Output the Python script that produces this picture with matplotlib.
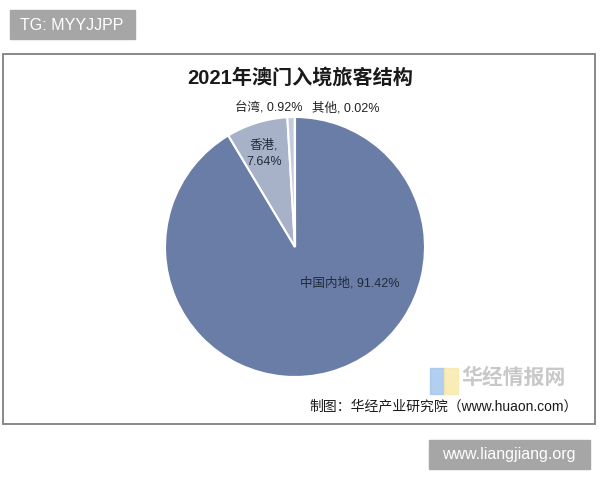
import matplotlib
matplotlib.use("Agg")
import matplotlib.pyplot as plt
from matplotlib.patches import Rectangle

plt.rcParams['font.family'] = ['Liberation Sans', 'Noto Sans CJK SC', 'DejaVu Sans']

# data
categories = ['中国内地', '香港', '台湾', '其他']
shares = [91.42, 7.64, 0.92, 0.02]
colors = ['#6a7da6', '#a7b2c9', '#c3cadb', '#dde2ec']


def px(x, y, w=0, h=0):
    # pixel box (from top-left) -> figure fraction
    return (x / 600, 1 - (y + h) / 480, w / 600, h / 480)


fig = plt.figure(figsize=(6, 4.8), dpi=100)
fig.patch.set_facecolor('white')

# outer frame of the chart
x0, y0, w0, h0 = px(3, 54, 592, 370)
fig.add_artist(Rectangle((x0, y0), w0, h0, transform=fig.transFigure, fill=False,
                         edgecolor='#7f7f7f', linewidth=1.3))

# pie
ax = fig.add_axes(px(165, 117, 260, 260))
ax.pie(shares, colors=colors, startangle=90, counterclock=False,
       wedgeprops=dict(edgecolor='white', linewidth=1.5))
ax.set_xlim(-1, 1)
ax.set_ylim(-1, 1)
ax.set_aspect('auto')
ax.axis('off')

lab = ['%s, %.2f%%' % (c, v) for c, v in zip(categories, shares)]
ax.text(0.42, -0.28, lab[0], ha='center', va='center', fontsize=9, color='#1f2a3a')
ax.text(-0.24, 0.72, '%s,\n%.2f%%' % (categories[1], shares[1]), ha='center',
        va='center', fontsize=9, color='#1f2a3a', linespacing=1.45)
ax.text(-0.20, 1.07, lab[2], ha='center', va='center', fontsize=9, color='#222222')
ax.text(0.39, 1.07, lab[3], ha='center', va='center', fontsize=9, color='#222222')

# title
fig.text(300 / 600, 1 - 78 / 480, '2021年澳门入境旅客结构', ha='center', va='center',
         fontsize=14.5, fontweight='bold', color='#1a1a1a')

# logo watermark
x, y, w, h = px(430, 368, 14, 26)
fig.add_artist(Rectangle((x, y), w, h, transform=fig.transFigure, color='#9fc3ee', alpha=0.8))
x, y, w, h = px(444, 368, 14, 26)
fig.add_artist(Rectangle((x, y), w, h, transform=fig.transFigure, color='#f7e9a8', alpha=0.8))
fig.text(514 / 600, 1 - 378 / 480, '华经情报网', ha='center', va='center',
         fontsize=15, fontweight='bold', color='#c8c8c8')

# source
fig.text(578 / 600, 1 - 406 / 480, '制图：华经产业研究院（www.huaon.com）', ha='right',
         va='center', fontsize=10, color='#1a1a1a')

# corner tags
x, y, w, h = px(10, 10, 125, 29)
fig.add_artist(Rectangle((x, y), w, h, transform=fig.transFigure, color='#a6a6a6'))
fig.text(72 / 600, 1 - 25 / 480, 'TG: MYYJJPP', ha='center', va='center', fontsize=11.5,
         color='white')
x, y, w, h = px(429, 440, 161, 29)
fig.add_artist(Rectangle((x, y), w, h, transform=fig.transFigure, color='#a6a6a6'))
fig.text(509 / 600, 1 - 455 / 480, 'www.liangjiang.org', ha='center', va='center',
         fontsize=11.5, color='white')

fig.savefig('out.png', dpi=100, facecolor='white')
